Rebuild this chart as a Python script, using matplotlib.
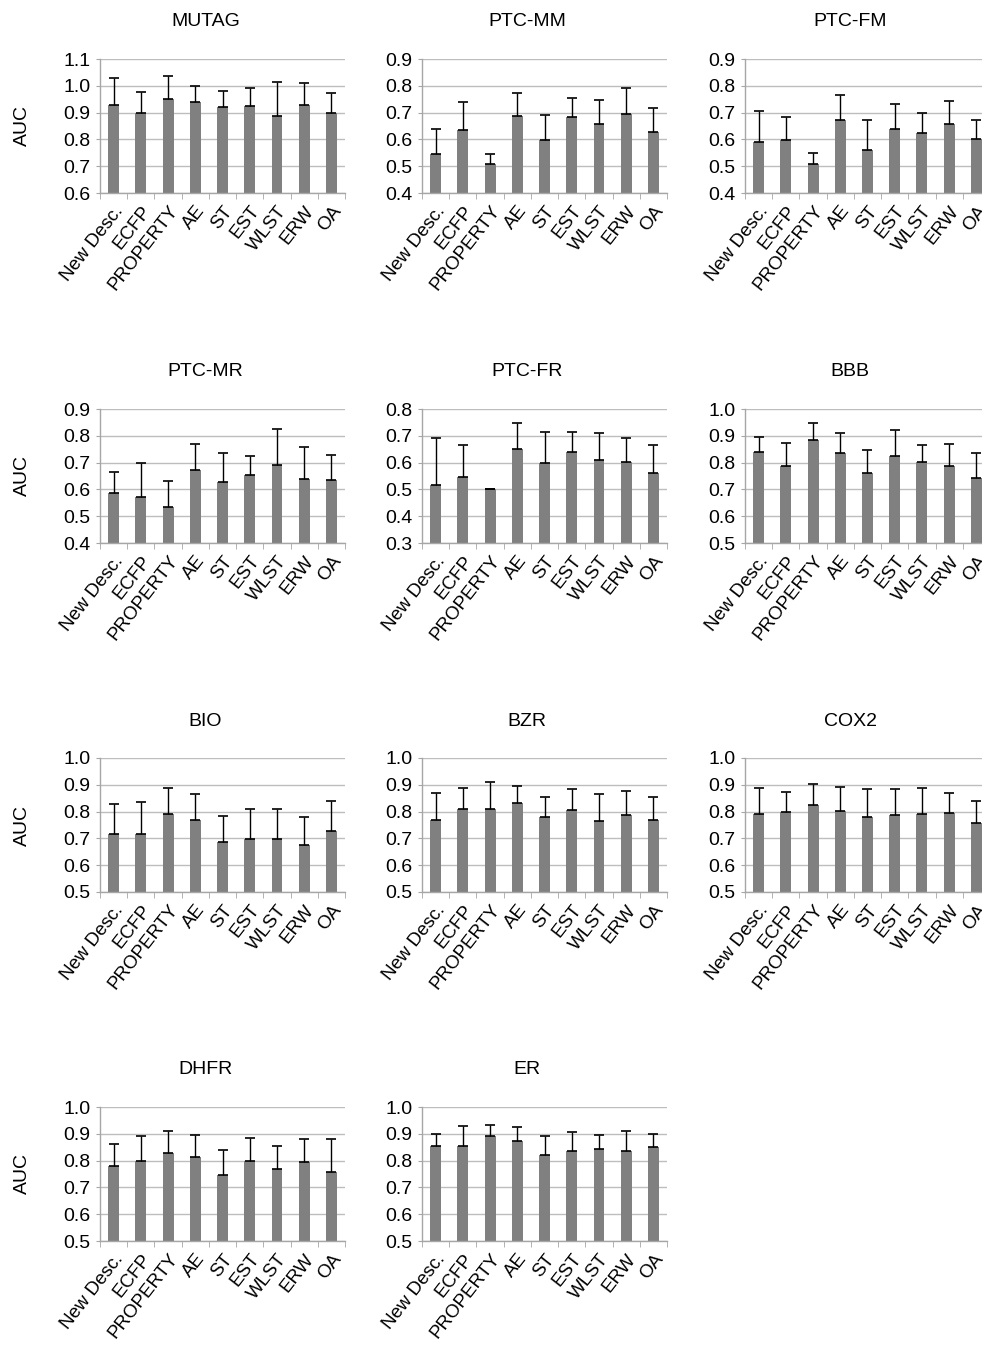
import numpy as np
import matplotlib
matplotlib.use("Agg")
import matplotlib.pyplot as plt
from matplotlib.ticker import FormatStrFormatter, FixedLocator

plt.rcParams["font.family"] = ["Liberation Sans", "DejaVu Sans"]

# ── Data ─────────────────────────────────────────────────────────────────────
methods = ["New Desc.", "ECFP", "PROPERTY", "AE", "ST", "EST", "WLST", "ERW", "OA"]
datasets = ["MUTAG", "PTC-MM", "PTC-FM", "PTC-MR", "PTC-FR", "BBB",
            "BIO", "BZR", "COX2", "DHFR", "ER"]

mutag_mean = [0.928, 0.898, 0.950, 0.938, 0.922, 0.925, 0.889, 0.928, 0.898]
mutag_top  = [1.029, 0.978, 1.037, 1.000, 0.981, 0.993, 1.016, 1.012, 0.975]
ptcmm_mean = [0.546, 0.635, 0.510, 0.688, 0.599, 0.684, 0.657, 0.693, 0.629]
ptcmm_top  = [0.638, 0.739, 0.546, 0.774, 0.692, 0.755, 0.748, 0.791, 0.718]
ptcfm_mean = [0.590, 0.597, 0.510, 0.673, 0.561, 0.639, 0.623, 0.657, 0.602]
ptcfm_top  = [0.706, 0.683, 0.548, 0.765, 0.672, 0.732, 0.697, 0.745, 0.674]
ptcmr_mean = [0.588, 0.573, 0.536, 0.671, 0.628, 0.654, 0.691, 0.638, 0.636]
ptcmr_top  = [0.666, 0.699, 0.631, 0.770, 0.734, 0.726, 0.826, 0.759, 0.729]
ptcfr_mean = [0.516, 0.545, 0.500, 0.650, 0.599, 0.640, 0.610, 0.602, 0.560]
ptcfr_top  = [0.690, 0.665, 0.502, 0.746, 0.715, 0.715, 0.712, 0.691, 0.665]
bbb_mean   = [0.838, 0.786, 0.885, 0.834, 0.761, 0.824, 0.801, 0.786, 0.744]
bbb_top    = [0.896, 0.874, 0.948, 0.911, 0.846, 0.921, 0.866, 0.868, 0.835]
bio_mean   = [0.715, 0.715, 0.791, 0.767, 0.688, 0.699, 0.699, 0.674, 0.726]
bio_top    = [0.828, 0.836, 0.888, 0.867, 0.785, 0.810, 0.809, 0.781, 0.838]
bzr_mean   = [0.770, 0.811, 0.811, 0.831, 0.780, 0.807, 0.765, 0.786, 0.767]
bzr_top    = [0.868, 0.887, 0.910, 0.896, 0.856, 0.885, 0.864, 0.878, 0.853]
cox2_mean  = [0.790, 0.800, 0.826, 0.804, 0.779, 0.788, 0.790, 0.793, 0.759]
cox2_top   = [0.888, 0.872, 0.904, 0.892, 0.885, 0.884, 0.887, 0.871, 0.840]
dhfr_mean  = [0.781, 0.800, 0.829, 0.815, 0.746, 0.800, 0.770, 0.794, 0.759]
dhfr_top   = [0.863, 0.891, 0.910, 0.894, 0.839, 0.886, 0.855, 0.879, 0.879]
er_mean    = [0.856, 0.855, 0.891, 0.875, 0.822, 0.836, 0.843, 0.834, 0.849]
er_top     = [0.898, 0.929, 0.934, 0.925, 0.890, 0.905, 0.894, 0.910, 0.901]

means = [mutag_mean, ptcmm_mean, ptcfm_mean, ptcmr_mean, ptcfr_mean, bbb_mean,
         bio_mean, bzr_mean, cox2_mean, dhfr_mean, er_mean]
tops = [mutag_top, ptcmm_top, ptcfm_top, ptcmr_top, ptcfr_top, bbb_top,
        bio_top, bzr_top, cox2_top, dhfr_top, er_top]
ylims = [(0.6, 1.1), (0.4, 0.9), (0.4, 0.9), (0.4, 0.9), (0.3, 0.8), (0.5, 1.0),
         (0.5, 1.0), (0.5, 1.0), (0.5, 1.0), (0.5, 1.0), (0.5, 1.0)]

# ── Figure / layout (pixel geometry) ─────────────────────────────────────────
W, H = 982, 1350
fig = plt.figure(figsize=(W / 100, H / 100), dpi=100)
fig.patch.set_facecolor("white")

col_left = [100, 422, 745]
row_top = [59, 409, 758, 1107]
ax_w, ax_h = 245, 134

x = np.arange(len(methods))
for i, name in enumerate(datasets):
    r, c = divmod(i, 3)
    left, top = col_left[c], row_top[r]
    ax = fig.add_axes([left / W, 1 - (top + ax_h) / H, ax_w / W, ax_h / H])

    m = np.array(means[i])
    err = np.array(tops[i]) - m
    lo, hi = ylims[i]
    ax.bar(x, m - lo, bottom=lo, width=0.4, color="#808080", zorder=2)
    ax.errorbar(x, m, yerr=[np.zeros_like(err), err], fmt="none",
                ecolor="black", elinewidth=1.0, capsize=3.5, capthick=1.2, zorder=3)

    ax.set_xlim(-0.5, len(methods) - 0.5)
    ax.set_ylim(lo, hi)
    ax.set_yticks(np.round(np.arange(lo, hi + 0.001, 0.1), 1))
    ax.yaxis.set_major_formatter(FormatStrFormatter("%.1f"))
    ax.grid(axis="y", color="#bdbdbd", linewidth=1.0, zorder=0)
    ax.set_axisbelow(True)

    for s in ["top", "right"]:
        ax.spines[s].set_visible(False)
    for s in ["left", "bottom"]:
        ax.spines[s].set_color("#a6a6a6")
        ax.spines[s].set_linewidth(1.0)

    ax.set_xticks(x)
    ax.set_xticklabels(methods, rotation=52, ha="right", rotation_mode="anchor",
                       fontsize=13.5)
    ax.xaxis.set_minor_locator(FixedLocator(np.arange(-0.5, len(methods), 1.0)))
    ax.tick_params(axis="x", which="major", length=0, pad=7)
    ax.tick_params(axis="x", which="minor", length=4, color="#a6a6a6", direction="out")
    ax.tick_params(axis="y", length=3, color="#a6a6a6", labelsize=14, pad=4)

    ax.text(0.43, 1 + 37 / ax_h, name, transform=ax.transAxes,
            ha="center", va="center", fontsize=14)
    if c == 0:
        ax.text(-78 / ax_w, 0.5, "AUC", transform=ax.transAxes, rotation=90,
                ha="center", va="center", fontsize=14)

fig.savefig("out.png", dpi=100)
